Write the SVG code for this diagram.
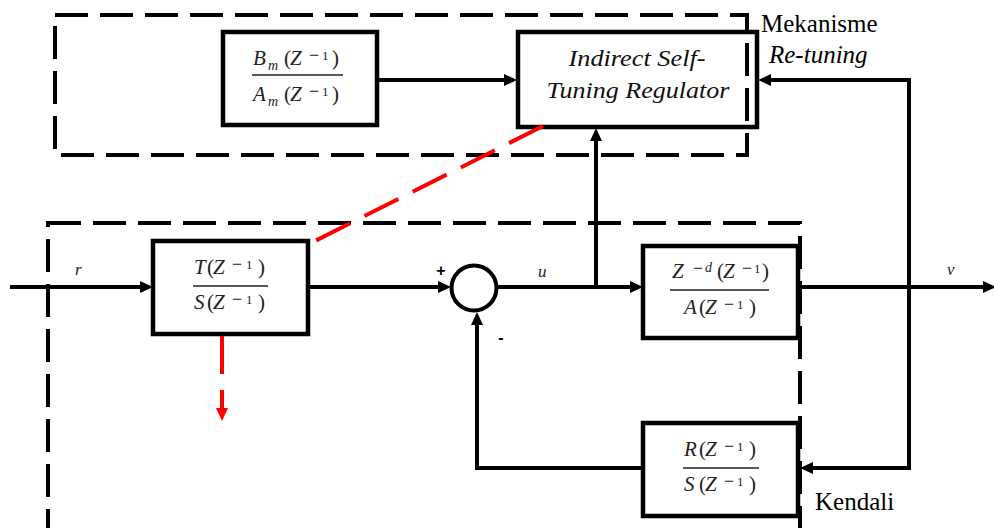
<svg xmlns="http://www.w3.org/2000/svg" width="994" height="528" viewBox="0 0 994 528">
<style>
text{font-family:'Liberation Serif','Times New Roman',serif}
.box{fill:#fff;stroke:#000;stroke-width:4.5}
.ln{fill:none;stroke:#000;stroke-width:4}
.dash{fill:none;stroke:#000;stroke-width:4;stroke-dasharray:33 12}
.red{fill:none;stroke:#ff0000;stroke-width:4;stroke-dasharray:38 16}
.m{font-style:italic;font-size:21px;fill:#222}
.p{font-size:21px;fill:#222}
.s{font-size:13px;fill:#222}
.sm{font-size:18px;fill:#222}
.si{font-style:italic;font-size:14px;fill:#222}
.bar{stroke:#222;stroke-width:1.6}
.lab{font-size:25px;fill:#000}
.str{font-style:italic;font-size:23px;fill:#111}
.sig{font-style:italic;font-size:17px;fill:#222}
.sign{font-family:'Liberation Sans',Arial,sans-serif;font-weight:bold;font-size:16px;fill:#000}
</style>
<defs>
<marker id="ah" markerUnits="userSpaceOnUse" markerWidth="13" markerHeight="12" refX="3" refY="6" orient="auto">
<path d="M0,0 L13,6 L0,12 z" fill="#000"/>
</marker>
<marker id="ahr" markerUnits="userSpaceOnUse" markerWidth="13" markerHeight="12" refX="3" refY="6" orient="auto">
<path d="M0,0 L13,6 L0,12 z" fill="#ff0000"/>
</marker>
</defs>
<rect width="994" height="528" fill="#fff"/>

<g id="connectors">
<path class="ln" d="M10,287 L143,287" marker-end="url(#ah)"/>
<path class="ln" d="M308,287 L441,287" marker-end="url(#ah)"/>
<path class="ln" d="M497,287 L633,287" marker-end="url(#ah)"/>
<path class="ln" d="M596,287 L596,138" marker-end="url(#ah)"/>
<path class="ln" d="M798,287 L986,287" marker-end="url(#ah)"/>
<path class="ln" d="M909,80 L909,468 L810,468" marker-end="url(#ah)"/>
<path class="ln" d="M911,80 L768,80" marker-end="url(#ah)"/>
<path class="ln" d="M643,468 L477,468 L477,322" marker-end="url(#ah)"/>
<path class="ln" d="M377,80 L507,80" marker-end="url(#ah)"/>
</g>

<g id="node-bm">
<rect class="box" x="223" y="32" width="154" height="93"/>
<line class="bar" x1="252" y1="75" x2="343" y2="75"/>
<text class="m" x="253" y="65">B</text><text class="si" x="268" y="70">m</text>
<text class="p" x="284" y="65">(</text><text class="m" x="290" y="65">Z</text>
<text class="sm" x="309" y="61">−</text><text class="s" x="322" y="60">1</text>
<text class="p" x="332" y="65">)</text>
<text class="m" x="253" y="101">A</text><text class="si" x="268" y="106">m</text>
<text class="p" x="284" y="101">(</text><text class="m" x="290" y="101">Z</text>
<text class="sm" x="309" y="97">−</text><text class="s" x="322" y="96">1</text>
<text class="p" x="332" y="101">)</text>
</g>

<g id="node-str">
<rect class="box" x="518" y="32" width="239" height="95"/>
<text class="str" x="637" y="66" text-anchor="middle" textLength="137" lengthAdjust="spacingAndGlyphs">Indirect Self-</text>
<text class="str" x="638" y="98" text-anchor="middle" textLength="183" lengthAdjust="spacingAndGlyphs">Tuning Regulator</text>
</g>

<g id="node-ts">
<rect class="box" x="153" y="241" width="155" height="93"/>
<line class="bar" x1="193" y1="286" x2="268" y2="286"/>
<text class="m" x="194" y="274">T</text><text class="p" x="207" y="274">(</text><text class="m" x="213" y="274">Z</text>
<text class="sm" x="232" y="270">−</text><text class="s" x="246" y="269">1</text><text class="p" x="258" y="274">)</text>
<text class="m" x="194" y="309">S</text><text class="p" x="207" y="309">(</text><text class="m" x="213" y="309">Z</text>
<text class="sm" x="232" y="305">−</text><text class="s" x="246" y="304">1</text><text class="p" x="258" y="309">)</text>
</g>

<g id="node-sum">
<circle cx="474" cy="288" r="22.5" fill="#fff" stroke="#000" stroke-width="4"/>
<text class="sign" x="441" y="276" text-anchor="middle">+</text>
<text class="sign" x="501" y="343" text-anchor="middle">-</text>
</g>

<g id="node-g">
<rect class="box" x="643" y="246" width="155" height="92"/>
<line class="bar" x1="670" y1="290" x2="769" y2="290"/>
<text class="m" x="672" y="278">Z</text><text class="sm" x="693" y="274">−</text><text class="si" x="705" y="272">d</text>
<text class="p" x="717" y="278">(</text><text class="m" x="723" y="278">Z</text>
<text class="sm" x="742" y="274">−</text><text class="s" x="754" y="273">1</text><text class="p" x="762" y="278">)</text>
<text class="m" x="684" y="314">A</text><text class="p" x="699" y="314">(</text><text class="m" x="705" y="314">Z</text>
<text class="sm" x="724" y="310">−</text><text class="s" x="737" y="309">1</text><text class="p" x="749" y="314">)</text>
</g>

<g id="node-rs">
<rect class="box" x="643" y="423" width="155" height="93"/>
<line class="bar" x1="683" y1="468" x2="759" y2="468"/>
<text class="m" x="684" y="456">R</text><text class="p" x="699" y="456">(</text><text class="m" x="705" y="456">Z</text>
<text class="sm" x="724" y="452">−</text><text class="s" x="737" y="451">1</text><text class="p" x="749" y="456">)</text>
<text class="m" x="684" y="491">S</text><text class="p" x="699" y="491">(</text><text class="m" x="705" y="491">Z</text>
<text class="sm" x="724" y="487">−</text><text class="s" x="737" y="486">1</text><text class="p" x="749" y="491">)</text>
</g>

<g id="groups">
<rect class="dash" x="55" y="15" width="692" height="140"/>
<rect class="dash" x="48" y="223" width="752" height="330"/>
</g>

<g id="red-links">
<path class="red" d="M543,126 L313,242"/>
<path class="red" d="M222,336 L222,411" marker-end="url(#ahr)"/>
</g>

<g id="labels">
<text class="sig" x="75" y="275">r</text>
<text class="sig" x="538" y="277">u</text>
<text class="sig" x="947" y="275">ν</text>
<text class="lab" x="761" y="32">Mekanisme</text>
<text class="lab" x="769" y="63" font-style="italic" font-size="26">Re-tuning</text>
<text class="lab" x="815" y="510">Kendali</text>
</g>
</svg>
